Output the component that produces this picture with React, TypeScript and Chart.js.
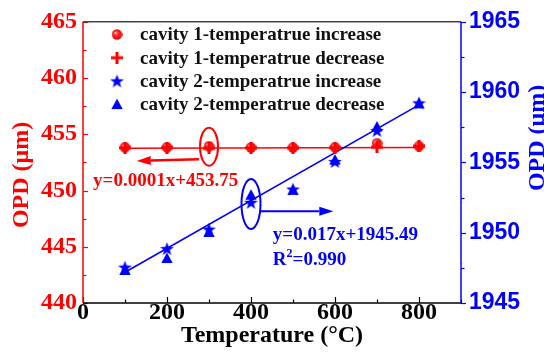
import { useEffect, useRef } from "react";
import { Chart, registerables } from "chart.js";

Chart.register(...registerables);

// Measured optical path difference of both cavities during heating and cooling
const temperatures = [100, 200, 300, 400, 500, 600, 700, 800];
const cavity1Increase = [453.85, 453.85, 453.95, 453.83, 453.82, 453.85, 454.2, 453.95];
const cavity1Decrease = [453.8, 453.82, 453.75, 453.8, 453.8, 453.82, 453.85, 453.95];
const cavity2Increase = [1947.55, 1948.87, 1950.25, 1952.16, 1953.1, 1955.06, 1957.27, 1959.23];
const cavity2Decrease = [1947.35, 1948.2, 1950.05, 1952.7, 1953.05, 1955.2, 1957.55, 1959.2];

const legendLabels = [
  "cavity 1-temperatrue increase",
  "cavity 1-temperatrue decrease",
  "cavity 2-temperatrue increase",
  "cavity 2-temperatrue decrease",
];

// Linear fits
const fitSpan = [100, 800];
const fit1Slope = 0.0001;
const fit1Intercept = 453.75;
const fit2Slope = 0.017;
const fit2Intercept = 1945.49;
const fit2R2 = 0.99;

// Axis ranges and labelled ticks
const xRange = [0, 900];
const xTickLabels = [0, 200, 400, 600, 800];
const leftRange = [440, 465];
const leftTickLabels = [440, 445, 450, 455, 460, 465];
const rightRange = [1945, 1965];
const rightTickLabels = [1945, 1950, 1955, 1960, 1965];

const SERIF = "'Liberation Serif', 'Times New Roman', serif";
const SANS = "'Liberation Sans', Arial, sans-serif";
const RED = "#ff0000";
const BLUE = "#0000ff";

function makeCanvas(w: number, h: number) {
  const c = document.createElement("canvas");
  c.width = w;
  c.height = h;
  return c;
}

function makeBall() {
  const d = 11;
  const c = makeCanvas(d, d);
  const g = c.getContext("2d")!;
  const r = d / 2;
  const grad = g.createRadialGradient(r - 1.6, r - 1.8, 0.4, r, r, r);
  grad.addColorStop(0, "#ffc0c0");
  grad.addColorStop(0.35, "#ff2a2a");
  grad.addColorStop(1, "#e60000");
  g.fillStyle = grad;
  g.beginPath();
  g.arc(r, r, r - 0.3, 0, Math.PI * 2);
  g.fill();
  return c;
}

function makePlus() {
  const d = 12;
  const c = makeCanvas(d, d);
  const g = c.getContext("2d")!;
  g.strokeStyle = RED;
  g.lineWidth = 3;
  g.beginPath();
  g.moveTo(d / 2, 0);
  g.lineTo(d / 2, d);
  g.moveTo(0, d / 2);
  g.lineTo(d, d / 2);
  g.stroke();
  return c;
}

function makeStar() {
  const d = 15;
  const c = makeCanvas(d, d);
  const g = c.getContext("2d")!;
  const cx = d / 2;
  const cy = d / 2 + 0.6;
  const outer = 7.2;
  const inner = 3.0;
  g.fillStyle = BLUE;
  g.beginPath();
  for (let i = 0; i < 10; i++) {
    const rad = i % 2 === 0 ? outer : inner;
    const a = -Math.PI / 2 + (i * Math.PI) / 5;
    const px = cx + rad * Math.cos(a);
    const py = cy + rad * Math.sin(a);
    if (i === 0) g.moveTo(px, py);
    else g.lineTo(px, py);
  }
  g.closePath();
  g.fill();
  return c;
}

function makeTriangle() {
  const d = 12;
  const c = makeCanvas(d, d);
  const g = c.getContext("2d")!;
  g.fillStyle = BLUE;
  g.beginPath();
  g.moveTo(d / 2, 0.5);
  g.lineTo(d - 0.3, d - 1);
  g.lineTo(0.3, d - 1);
  g.closePath();
  g.fill();
  return c;
}

function drawArrow(
  ctx: CanvasRenderingContext2D,
  x0: number,
  y0: number,
  x1: number,
  y1: number,
  color: string,
  width: number
) {
  const ang = Math.atan2(y1 - y0, x1 - x0);
  const headLen = 14;
  const headHalf = 4.5;
  const bx = x1 - headLen * Math.cos(ang);
  const by = y1 - headLen * Math.sin(ang);
  ctx.strokeStyle = color;
  ctx.fillStyle = color;
  ctx.lineWidth = width;
  ctx.beginPath();
  ctx.moveTo(x0, y0);
  ctx.lineTo(bx, by);
  ctx.stroke();
  ctx.beginPath();
  ctx.moveTo(x1, y1);
  ctx.lineTo(bx + headHalf * Math.sin(ang), by - headHalf * Math.cos(ang));
  ctx.lineTo(bx - headHalf * Math.sin(ang), by + headHalf * Math.cos(ang));
  ctx.closePath();
  ctx.fill();
}

export default function App() {
  const canvasRef = useRef<HTMLCanvasElement | null>(null);

  useEffect(() => {
    const canvas = canvasRef.current;
    if (!canvas) return;

    const ball = makeBall();
    const plus = makePlus();
    const star = makeStar();
    const tri = makeTriangle();
    const markers = [ball, plus, star, tri];

    const pts = (ys: number[]) => temperatures.map((t, i) => ({ x: t, y: ys[i] }));

    // Frame, inward/outward tick marks
    const framePlugin = {
      id: "frame",
      beforeDatasetsDraw(chart: any) {
        const { ctx, chartArea: a, scales } = chart;
        const x = scales.x;
        const yl = scales.y;
        const yr = scales.y1;
        ctx.save();
        ctx.lineCap = "butt";
        // x ticks (pointing up into the plot)
        ctx.strokeStyle = "#000";
        ctx.lineWidth = 1.2;
        for (let v = xRange[0]; v <= xRange[1]; v += 100) {
          const px = Math.round(x.getPixelForValue(v)) + 0.5;
          const len = v % 200 === 0 ? 6 : 3.5;
          ctx.beginPath();
          ctx.moveTo(px, a.bottom);
          ctx.lineTo(px, a.bottom - len);
          ctx.stroke();
        }
        // left ticks (pointing right into the plot)
        ctx.strokeStyle = RED;
        for (let v = leftRange[0]; v <= leftRange[1] + 1e-6; v += 2.5) {
          const py = Math.round(yl.getPixelForValue(v)) + 0.5;
          const len = v % 5 === 0 ? 5 : 3.5;
          ctx.beginPath();
          ctx.moveTo(a.left, py);
          ctx.lineTo(a.left + len, py);
          ctx.stroke();
        }
        // right ticks (pointing outward)
        ctx.strokeStyle = BLUE;
        for (let v = rightRange[0]; v <= rightRange[1] + 1e-6; v += 2.5) {
          const py = Math.round(yr.getPixelForValue(v)) + 0.5;
          const len = v % 5 === 0 ? 5 : 3.5;
          ctx.beginPath();
          ctx.moveTo(a.right, py);
          ctx.lineTo(a.right + len, py);
          ctx.stroke();
        }
        // frame lines
        ctx.lineWidth = 1.5;
        ctx.strokeStyle = "#444";
        ctx.beginPath();
        ctx.moveTo(a.left, a.top);
        ctx.lineTo(a.right, a.top);
        ctx.stroke();
        ctx.strokeStyle = "#000";
        ctx.beginPath();
        ctx.moveTo(a.left, a.bottom);
        ctx.lineTo(a.right, a.bottom);
        ctx.stroke();
        ctx.strokeStyle = RED;
        ctx.beginPath();
        ctx.moveTo(a.left, a.top);
        ctx.lineTo(a.left, a.bottom);
        ctx.stroke();
        ctx.strokeStyle = BLUE;
        ctx.beginPath();
        ctx.moveTo(a.right, a.top);
        ctx.lineTo(a.right, a.bottom);
        ctx.stroke();
        ctx.restore();
      },
    };

    // Axis titles, legend, fit equations and call-out marks
    const overlayPlugin = {
      id: "overlay",
      afterDraw(chart: any) {
        const { ctx, chartArea: a, scales } = chart;
        const x = scales.x;
        const yl = scales.y;
        const yr = scales.y1;
        ctx.save();

        // axis titles
        ctx.font = `bold 24px ${SERIF}`;
        ctx.textAlign = "center";
        ctx.textBaseline = "alphabetic";
        ctx.fillStyle = "#000";
        ctx.fillText("Temperature (°C)", (a.left + a.right) / 2, 342);

        ctx.save();
        ctx.fillStyle = RED;
        ctx.translate(28, 175);
        ctx.rotate(-Math.PI / 2);
        ctx.fillText("OPD (μm)", 0, 0);
        ctx.restore();

        ctx.save();
        ctx.fillStyle = BLUE;
        ctx.translate(544, 138);
        ctx.rotate(-Math.PI / 2);
        ctx.fillText("OPD (μm)", 0, 0);
        ctx.restore();

        // legend
        ctx.font = `bold 19px ${SERIF}`;
        ctx.textAlign = "left";
        ctx.textBaseline = "middle";
        ctx.fillStyle = "#111";
        legendLabels.forEach((label, i) => {
          const cy = 34.5 + i * 23.2;
          const m = markers[i];
          ctx.drawImage(m, 117 - m.width / 2, cy - m.height / 2);
          ctx.fillText(label, 140, cy + 1);
        });

        // cavity 1 call-out
        const rx = x.getPixelForValue(300);
        const ry = yl.getPixelForValue(453.9);
        ctx.strokeStyle = RED;
        ctx.lineWidth = 2;
        ctx.beginPath();
        ctx.ellipse(rx, ry, 9, 19, 0, 0, Math.PI * 2);
        ctx.stroke();
        drawArrow(
          ctx,
          x.getPixelForValue(276),
          yl.getPixelForValue(452.77),
          x.getPixelForValue(128),
          yl.getPixelForValue(452.63),
          RED,
          2.5
        );
        ctx.fillStyle = RED;
        ctx.font = `bold 19px ${SERIF}`;
        ctx.textBaseline = "middle";
        ctx.fillText(
          `y=${fit1Slope}x+${fit1Intercept}`,
          x.getPixelForValue(24),
          yl.getPixelForValue(450.87)
        );

        // cavity 2 call-out
        const bx = x.getPixelForValue(400);
        const by = yr.getPixelForValue(1952.05);
        ctx.strokeStyle = BLUE;
        ctx.lineWidth = 2;
        ctx.beginPath();
        ctx.ellipse(bx, by, 9.5, 25, 0, 0, Math.PI * 2);
        ctx.stroke();
        drawArrow(
          ctx,
          x.getPixelForValue(421),
          yr.getPixelForValue(1951.52),
          x.getPixelForValue(596),
          yr.getPixelForValue(1951.52),
          BLUE,
          2
        );
        ctx.fillStyle = BLUE;
        const tx = x.getPixelForValue(452);
        ctx.fillText(`y=${fit2Slope}x+${fit2Intercept}`, tx, yr.getPixelForValue(1949.8));
        const r2y = yr.getPixelForValue(1948.04);
        ctx.fillText("R", tx, r2y);
        const rw = ctx.measureText("R").width;
        ctx.font = `bold 12px ${SERIF}`;
        ctx.fillText("2", tx + rw, r2y - 6);
        const sw = ctx.measureText("2").width;
        ctx.font = `bold 19px ${SERIF}`;
        ctx.fillText(`=${fit2R2.toFixed(3)}`, tx + rw + sw, r2y);

        ctx.restore();
      },
    };

    const chart = new Chart(canvas, {
      type: "scatter",
      data: {
        datasets: [
          {
            label: legendLabels[0],
            data: pts(cavity1Increase),
            yAxisID: "y",
            pointStyle: ball,
            pointRadius: 5.5,
            order: 4,
          },
          {
            label: legendLabels[1],
            data: pts(cavity1Decrease),
            yAxisID: "y",
            pointStyle: plus,
            pointRadius: 6,
            order: 3,
          },
          {
            label: legendLabels[2],
            data: pts(cavity2Increase),
            yAxisID: "y1",
            pointStyle: star,
            pointRadius: 7,
            order: 2,
          },
          {
            label: legendLabels[3],
            data: pts(cavity2Decrease),
            yAxisID: "y1",
            pointStyle: tri,
            pointRadius: 6,
            order: 1,
          },
          {
            type: "line",
            label: "cavity 1 fit",
            data: fitSpan.map((v) => ({ x: v, y: fit1Slope * v + fit1Intercept })),
            yAxisID: "y",
            borderColor: RED,
            borderWidth: 1.6,
            pointRadius: 0,
            fill: false,
            order: 10,
          },
          {
            type: "line",
            label: "cavity 2 fit",
            data: fitSpan.map((v) => ({ x: v, y: fit2Slope * v + fit2Intercept })),
            yAxisID: "y1",
            borderColor: BLUE,
            borderWidth: 1.6,
            pointRadius: 0,
            fill: false,
            order: 9,
          },
        ],
      } as any,
      options: {
        animation: false,
        responsive: false,
        devicePixelRatio: 1,
        layout: { padding: { top: 20, left: 0, right: 0, bottom: 0 } },
        plugins: {
          legend: { display: false },
          tooltip: { enabled: false },
        },
        scales: {
          x: {
            type: "linear",
            position: "bottom",
            min: xRange[0],
            max: xRange[1],
            grid: { display: false, drawTicks: false },
            border: { display: false },
            ticks: {
              stepSize: 100,
              autoSkip: false,
              maxRotation: 0,
              padding: -5,
              color: "#000",
              font: { family: SERIF, weight: "bold", size: 24 },
              callback: (v: any) => (xTickLabels.includes(Number(v)) ? String(v) : ""),
            },
            afterFit: (s: any) => {
              s.height = 53;
            },
          },
          y: {
            type: "linear",
            position: "left",
            min: leftRange[0],
            max: leftRange[1],
            grid: { display: false, drawTicks: false },
            border: { display: false },
            ticks: {
              stepSize: 2.5,
              autoSkip: false,
              padding: 6,
              color: RED,
              font: { family: SERIF, weight: "bold", size: 24 },
              callback: (v: any) => (leftTickLabels.includes(Number(v)) ? String(v) : ""),
            },
            afterFit: (s: any) => {
              s.width = 83;
            },
          },
          y1: {
            type: "linear",
            position: "right",
            min: rightRange[0],
            max: rightRange[1],
            grid: { display: false, drawTicks: false },
            border: { display: false },
            ticks: {
              stepSize: 2.5,
              autoSkip: false,
              padding: 8,
              color: BLUE,
              font: { family: SANS, weight: "bold", size: 23 },
              callback: (v: any) => (rightTickLabels.includes(Number(v)) ? String(v) : ""),
            },
            afterFit: (s: any) => {
              s.width = 83;
            },
          },
        },
      } as any,
      plugins: [framePlugin, overlayPlugin],
    });

    return () => {
      chart.destroy();
    };
  }, []);

  return (
    <div
      style={{
        position: "fixed",
        left: 0,
        top: 0,
        width: 544,
        height: 356,
        background: "#fff",
      }}
    >
      <canvas ref={canvasRef} width={544} height={356} style={{ display: "block" }} />
    </div>
  );
}
